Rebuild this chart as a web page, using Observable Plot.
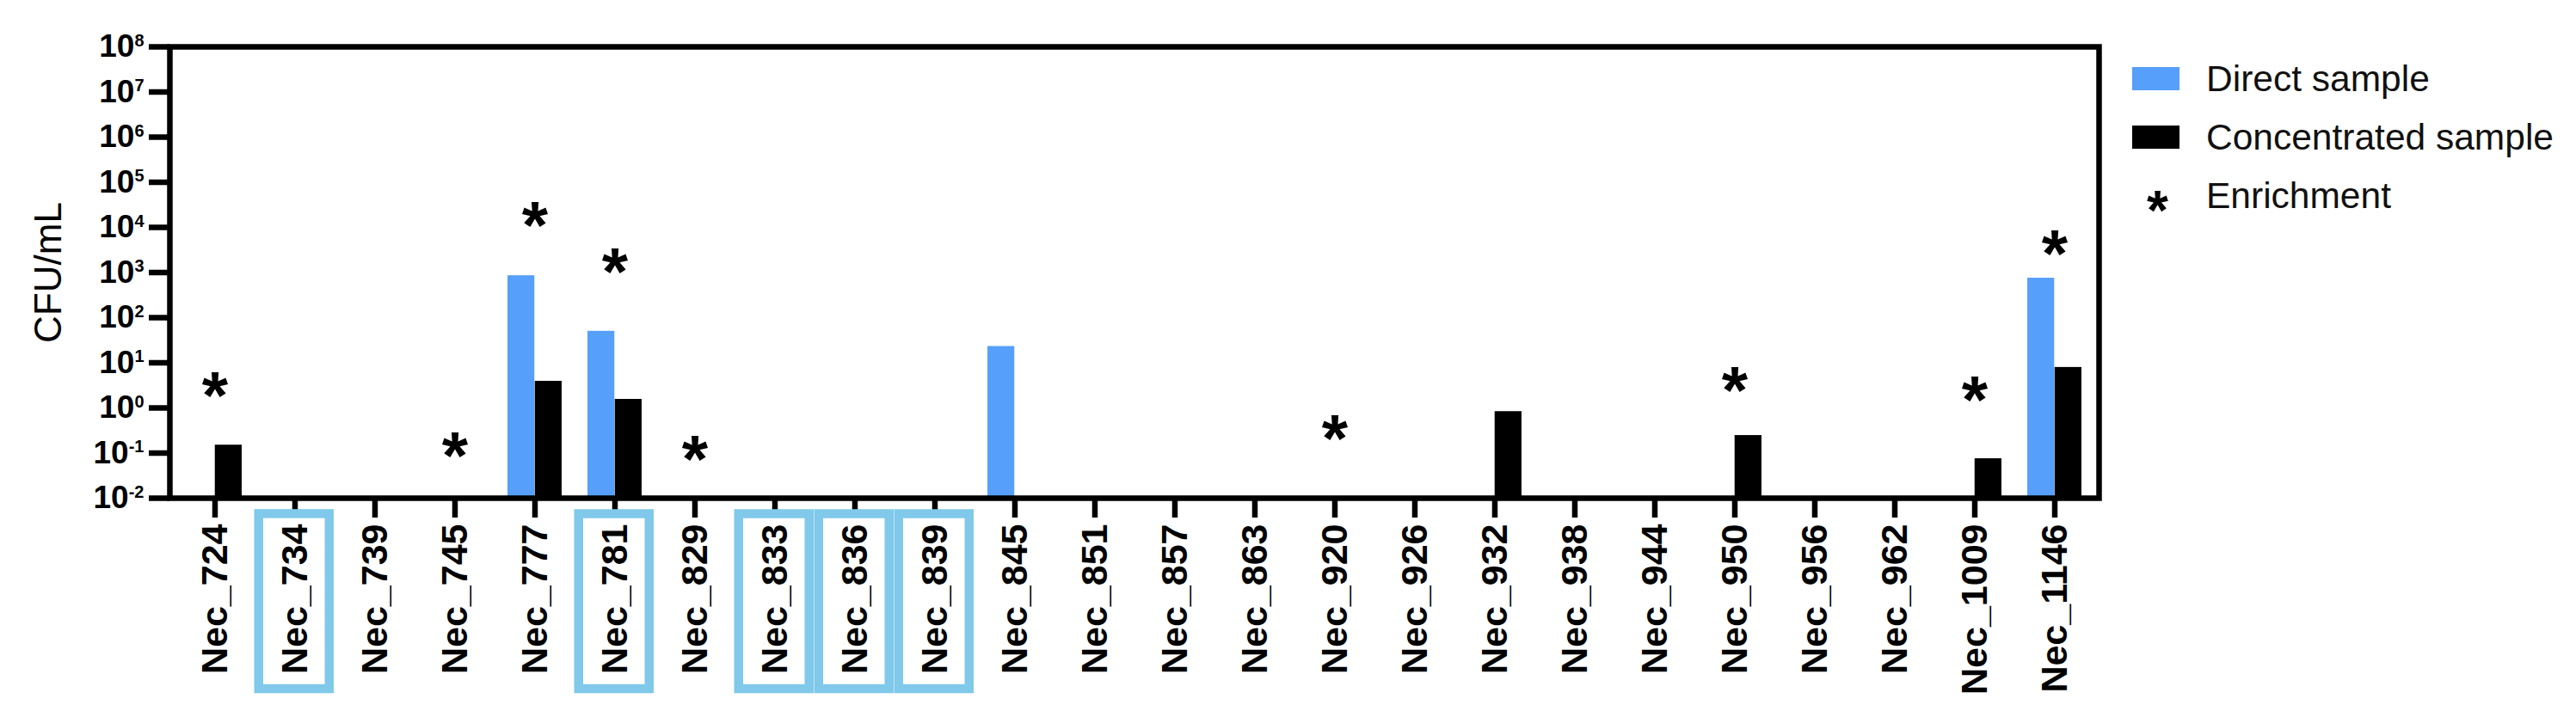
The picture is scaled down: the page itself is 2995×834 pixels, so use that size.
<!DOCTYPE html>
<html>
<head>
<meta charset="utf-8">
<script src="https://cdn.jsdelivr.net/npm/d3@7"></script>
<script src="https://cdn.jsdelivr.net/npm/@observablehq/plot@0.6"></script>
<style>
  html, body { margin: 0; padding: 0; background: #fff; }
  #wrap { position: relative; width: 2995px; height: 834px; font-family: 'Liberation Sans', Arial, sans-serif; }
  #chart { position: absolute; left: 0; top: 0; }
  #legend { position: absolute; left: 2479px; top: 57.5px; }
  .row { display: flex; align-items: center; height: 68px; }
  .sw { width: 86px; display: flex; align-items: center; }
  .sw .box { display: inline-block; width: 55px; height: 27px; }
  .sw.ast { font-size: 64px; font-weight: bold; line-height: 64px; justify-content: flex-start; padding-left: 17px; box-sizing: border-box; transform: translateY(17px); }
  .lab { font-size: 42.5px; color: #111; white-space: nowrap; }
</style>
</head>
<body>
<div id="wrap"><div id="chart"></div><div id="legend"></div></div>
<script>
// ---- data ----
const categories = ["Nec_724","Nec_734","Nec_739","Nec_745","Nec_777","Nec_781","Nec_829","Nec_833","Nec_836","Nec_839","Nec_845","Nec_851","Nec_857","Nec_863","Nec_920","Nec_926","Nec_932","Nec_938","Nec_944","Nec_950","Nec_956","Nec_962","Nec_1009","Nec_1146"];
const directValues = [null,null,null,null,850,50,null,null,null,null,23,null,null,null,null,null,null,null,null,null,null,null,null,750];
const concentratedValues = [0.15,null,null,null,3.9,1.55,null,null,null,null,null,null,null,null,null,null,0.83,null,null,0.245,null,null,0.075,7.9];
const enrichmentCategories = ["Nec_724","Nec_745","Nec_777","Nec_781","Nec_829","Nec_920","Nec_950","Nec_1009","Nec_1146"];
const enrichmentMarkY = [3.2,0.145,18600,1740,0.126,0.36,4.1,2.6,4400];
const highlightedCategories = ["Nec_734","Nec_781","Nec_833","Nec_836","Nec_839"];
const yTickExponents = [-2,-1,0,1,2,3,4,5,6,7,8];
const seriesNames = ["Direct sample","Concentrated sample"];
const seriesColors = ["#569FFA","#000000"];
const yLabel = "CFU/mL";
const enrichmentLabel = "Enrichment";

// ---- layout ----
const W = 2470, H = 834, mL = 197, mR = 30, mT = 54, mB = 255;
const step = (W - mL - mR) / categories.length;
const barW = 31.7;
const yMin = 10 ** d3.min(yTickExponents), yMax = 10 ** d3.max(yTickExponents);
const rows = categories.map((c, i) => ({cat: c, direct: directValues[i], conc: concentratedValues[i]}));

const plot = Plot.plot({
  width: W, height: H,
  marginLeft: mL, marginRight: mR, marginTop: mT, marginBottom: mB,
  style: {fontFamily: "'Liberation Sans', Arial, sans-serif", color: "black", background: "white", overflow: "visible"},
  x: {type: "band", domain: categories, padding: 0},
  y: {type: "log", domain: [yMin, yMax]},
  marks: [
    Plot.barY(rows.filter(d => d.direct != null), {x: "cat", y1: () => yMin, y2: "direct", fill: seriesColors[0], insetLeft: step / 2 - barW, insetRight: step / 2}),
    Plot.barY(rows.filter(d => d.conc != null), {x: "cat", y1: () => yMin, y2: "conc", fill: seriesColors[1], insetLeft: step / 2, insetRight: step / 2 - barW}),
    Plot.text(enrichmentCategories, {x: d => d, y: (d, i) => enrichmentMarkY[i], text: () => "*", fontSize: 78, fontWeight: "bold", lineAnchor: "middle", dy: 14}),
    Plot.axisY({ticks: yTickExponents.map(e => 10 ** e), tickFormat: d => "10^" + Math.round(Math.log10(d)), tickSize: 24, tickPadding: 6, strokeWidth: 6.5, fontSize: 37, fontWeight: "bold", label: null}),
    Plot.axisX({tickRotate: -90, tickSize: 23, tickPadding: 7, strokeWidth: 6.5, fontSize: 43, fontWeight: "bold", label: null}),
    Plot.frame({stroke: "black", strokeWidth: 6.5}),
    Plot.text([yLabel], {frameAnchor: "left", rotate: -90, dx: -141, fontSize: 44, textAnchor: "middle", lineAnchor: "middle"})
  ]
});
document.getElementById("chart").append(plot);

// superscript exponents on y tick labels
d3.select(plot).selectAll('g[aria-label="y-axis tick label"] text').each(function () {
  const parts = this.textContent.split("^");
  const sel = d3.select(this);
  sel.text(null);
  sel.append("tspan").text(parts[0]);
  sel.append("tspan").attr("dy", -12.5).attr("font-size", 20).text(parts[1]);
});

// highlight boxes around selected category labels
const hl = new Set(highlightedCategories);
const sRect = plot.getBoundingClientRect();
const boxG = d3.select(plot).append("g").attr("aria-label", "highlight boxes");
d3.select(plot).selectAll('g[aria-label="x-axis tick label"] text').each(function () {
  if (!hl.has(this.textContent)) return;
  const r = this.getBoundingClientRect();
  const cx = r.x + r.width / 2 - sRect.x;
  boxG.append("rect")
    .attr("x", cx - 41).attr("width", 82)
    .attr("y", r.y - sRect.y - 12).attr("height", r.height + 29)
    .attr("fill", "none").attr("stroke", "#80C9EA").attr("stroke-width", 10.5);
});

// legend
const legend = d3.select("#legend");
seriesNames.forEach((n, i) => {
  const row = legend.append("div").attr("class", "row");
  row.append("div").attr("class", "sw").append("span").attr("class", "box").style("background", seriesColors[i]);
  row.append("div").attr("class", "lab").text(n);
});
const r3 = legend.append("div").attr("class", "row");
r3.append("div").attr("class", "sw ast").text("*");
r3.append("div").attr("class", "lab").text(enrichmentLabel);
</script>
</body>
</html>
